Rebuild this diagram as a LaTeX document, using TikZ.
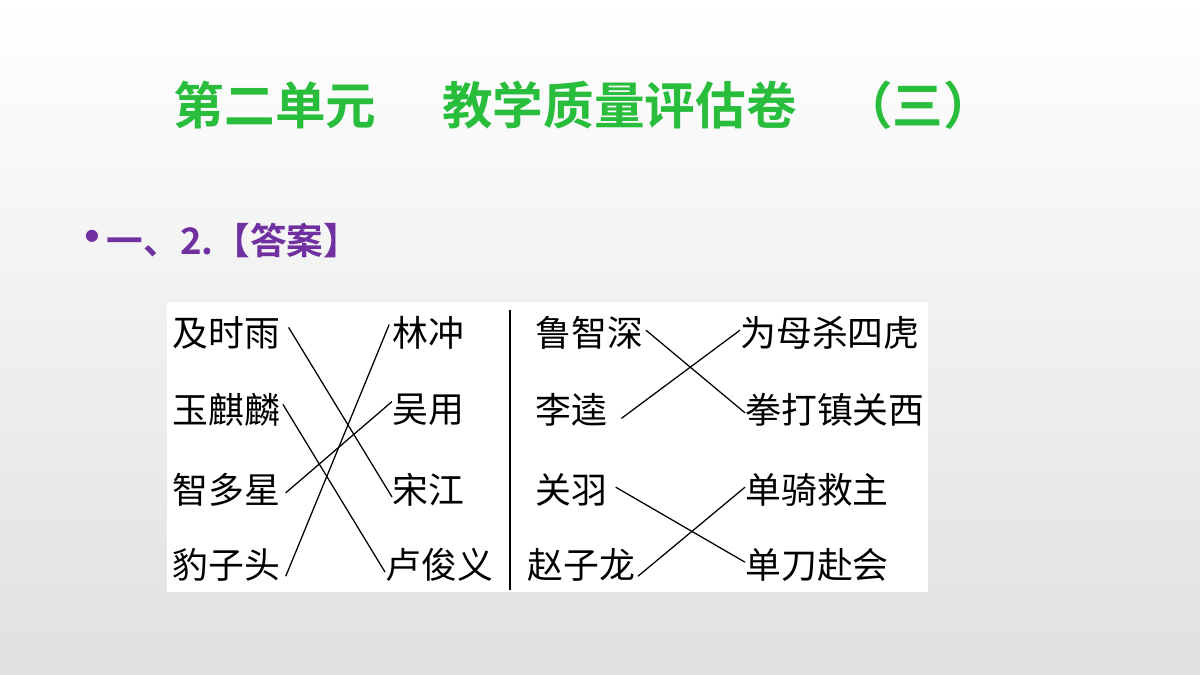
\documentclass[tikz,border=0pt]{standalone}
\usepackage{fontspec}
\newfontfamily\cjk{Noto Sans CJK SC}
\newfontfamily\cjkb{Noto Sans CJK SC Bold}
\begin{document}
\begin{tikzpicture}[x=0.025cm,y=-0.025cm,
  nm/.style={font=\cjk\fontsize{25.5}{26}\selectfont, inner sep=0pt, anchor=west},
  ln/.style={line width=0.9pt}]
\useasboundingbox (0,0) rectangle (1200,675);
\shade[top color=white, bottom color=black!12] (0,0) rectangle (1200,675);
\node (title) at (584,105) {\cjkb\fontsize{36}{36}\selectfont\color[RGB]{40,190,60}第二单元\hspace{1.3em}教学质量评估卷\hspace{0.9em}（三）};
\node[anchor=west,inner sep=0pt] (sub) at (68,240) {\cjkb\fontsize{26}{26}\selectfont\color[RGB]{112,48,160}{\fontsize{34}{34}\selectfont •}\hspace{-0.25em}一、2.【答案】};
\fill[white] (167,302) rectangle (928,592);
\draw[line width=1.5pt] (510,310) -- (510,590);
% left
\node[nm] (a1) at (172,333) {及时雨};
\node[nm] (a2) at (172,410) {玉麒麟};
\node[nm] (a3) at (172,490) {智多星};
\node[nm] (a4) at (172,565) {豹子头};
\node[nm] (b1) at (392,333) {林冲};
\node[nm] (b2) at (392,410) {吴用};
\node[nm] (b3) at (392,490) {宋江};
\node[nm] (b4) at (385,565) {卢俊义};
\draw[ln] ([xshift=6pt,yshift=4pt]a1.east) -- ([xshift=0pt,yshift=-5pt]b3.west);
\draw[ln] ([xshift=2pt,yshift=4pt]a2.east) -- ([xshift=0pt,yshift=-5pt]b4.west);
\draw[ln] ([xshift=4pt,yshift=-2pt]a3.east) -- ([xshift=0pt,yshift=6pt]b2.west);
\draw[ln] ([xshift=4pt,yshift=-8pt]a4.east) -- ([xshift=-2pt,yshift=6pt]b1.west);
% right
\node[nm] (c1) at (535,333) {鲁智深};
\node[nm] (c2) at (535,410) {李逵};
\node[nm] (c3) at (535,490) {关羽};
\node[nm] (c4) at (527,565) {赵子龙};
\node[nm] (d1) at (740,333) {为母杀四虎};
\node[nm] (d2) at (745,410) {拳打镇关西};
\node[nm] (d3) at (745,490) {单骑救主};
\node[nm] (d4) at (745,565) {单刀赴会};
\draw[ln] ([xshift=2pt,yshift=2pt]c1.east) -- ([xshift=0pt,yshift=-2pt]d2.west);
\draw[ln] ([xshift=10pt,yshift=-6pt]c2.east) -- ([xshift=0pt,yshift=2pt]d1.west);
\draw[ln] ([xshift=6pt,yshift=2pt]c3.east) -- ([xshift=0pt,yshift=2pt]d4.west);
\draw[ln] ([xshift=2pt,yshift=-8pt]c4.east) -- ([xshift=0pt,yshift=2pt]d3.west);
\end{tikzpicture}
\end{document}
